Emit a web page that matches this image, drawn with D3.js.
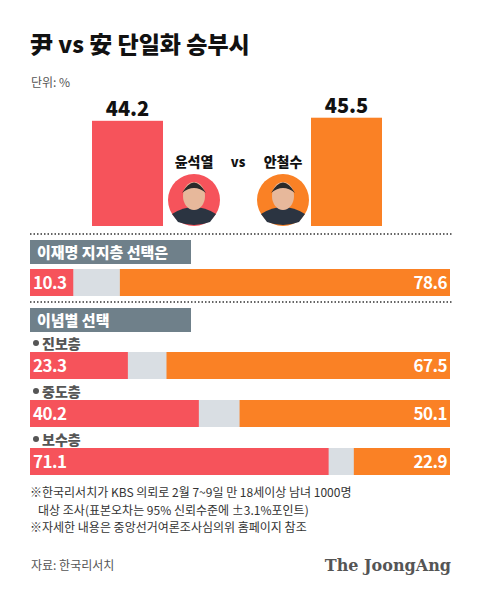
<!DOCTYPE html>
<html><head><meta charset="utf-8">
<script src="https://cdn.jsdelivr.net/npm/d3@7"></script>
<style>body{margin:0;background:#fff}text{font-family:"Noto Sans CJK KR","Noto Sans",sans-serif}</style>
</head><body><svg width="480" height="589"></svg>
<script>
"use strict"

var candidates = ["윤석열", "안철수"]
var overall = [44.2, 45.5]
var leeGroup = [10.3, 78.6]
var ideoLabels = ["진보층", "중도층", "보수층"]
var ideoYoon = [23.3, 40.2, 71.1]
var ideoAhn = [67.5, 50.1, 22.9]

var RED = "#f6535b", ORANGE = "#fa8125", GRAY = "#d9dee3", BOX = "#6f808a"
var svg = d3.select("svg")

svg.append("text").attr("x", 30).attr("y", 53).attr("font-size", 23).attr("font-weight", 900)
    .attr("fill", "#111").text("尹 vs 安 단일화 승부시")
svg.append("text").attr("x", 31).attr("y", 87).attr("font-size", 12).attr("fill", "#555").text("단위: %")

// top bars
var yTop = d3.scaleLinear().domain([0, 100]).range([226, -12])
var xs = [92, 311]
overall.forEach(function(v, i) {
    svg.append("rect").attr("x", xs[i]).attr("y", yTop(v)).attr("width", 71)
        .attr("height", 226 - yTop(v)).attr("fill", i ? ORANGE : RED)
    svg.append("text").attr("x", xs[i] + 35.5).attr("y", yTop(v) - 5).attr("text-anchor", "middle")
        .attr("font-size", 20).attr("font-weight", 900).attr("fill", "#111").text(v)
})
var cx = [194, 283]
candidates.forEach(function(n, i) {
    svg.append("text").attr("x", cx[i]).attr("y", 167).attr("text-anchor", "middle")
        .attr("font-size", 14).attr("font-weight", 900).attr("fill", "#111").text(n)
    var g = svg.append("g")
    g.append("circle").attr("cx", cx[i]).attr("cy", 200).attr("r", 26).attr("fill", i ? ORANGE : RED)
    g.append("path").attr("d", "M" + (cx[i] - 22) + ",214 Q" + cx[i] + ",200 " + (cx[i] + 22) + ",214 L" + (cx[i] + 16) + ",222 Q" + cx[i] + ",228 " + (cx[i] - 16) + ",222Z")
        .attr("fill", "#2b3441")
    g.append("ellipse").attr("cx", cx[i]).attr("cy", 196).attr("rx", 11).attr("ry", 14).attr("fill", "#e7b89b")
    g.append("path").attr("d", "M" + (cx[i] - 12) + ",193 Q" + cx[i] + ",172 " + (cx[i] + 12) + ",193 Q" + cx[i] + ",183 " + (cx[i] - 12) + ",193Z")
        .attr("fill", "#2a2a2a")
})
svg.append("text").attr("x", 238).attr("y", 167).attr("text-anchor", "middle")
    .attr("font-size", 13).attr("font-weight", 900).attr("fill", "#111").text("vs")

// dotted separators
;[234, 302].forEach(function(y) {
    svg.append("line").attr("x1", 30).attr("x2", 452).attr("y1", y).attr("y2", y)
        .attr("stroke", "#333").attr("stroke-width", 1.5).attr("stroke-dasharray", "1.5,2")
})

var x = d3.scaleLinear().domain([0, 100]).range([30, 450])

function header(txt, y, w) {
    svg.append("rect").attr("x", 30).attr("y", y).attr("width", w).attr("height", 24).attr("fill", BOX)
    svg.append("text").attr("x", 37).attr("y", y + 18).attr("font-size", 15).attr("font-weight", 900)
        .attr("fill", "#fff").text(txt)
}
function stackBar(y, a, b) {
    svg.append("rect").attr("x", x(0)).attr("y", y).attr("width", x(100) - x(0)).attr("height", 27).attr("fill", GRAY)
    svg.append("rect").attr("x", x(0)).attr("y", y).attr("width", x(a) - x(0)).attr("height", 27).attr("fill", RED)
    svg.append("rect").attr("x", x(100 - b)).attr("y", y).attr("width", x(100) - x(100 - b)).attr("height", 27).attr("fill", ORANGE)
    svg.append("text").attr("x", x(0) + 3).attr("y", y + 20).attr("font-size", 17).attr("font-weight", 700)
        .attr("letter-spacing", -0.5).attr("fill", "#fff").text(a.toFixed(1))
    svg.append("text").attr("x", x(100) - 3).attr("y", y + 20).attr("text-anchor", "end").attr("font-size", 17)
        .attr("letter-spacing", -0.5).attr("font-weight", 700).attr("fill", "#fff").text(b.toFixed(1))
}

header("이재명 지지층 선택은", 240, 161)
stackBar(269, leeGroup[0], leeGroup[1])

header("이념별 선택", 308, 161)
var rowY = [352, 400, 448]
ideoLabels.forEach(function(l, i) {
    svg.append("circle").attr("cx", 36).attr("cy", rowY[i] - 9).attr("r", 3).attr("fill", "#555")
    svg.append("text").attr("x", 42).attr("y", rowY[i] - 3).attr("font-size", 14).attr("font-weight", 900)
        .attr("fill", "#555").text(l)
    stackBar(rowY[i], ideoYoon[i], ideoAhn[i])
})

var notes = ["※한국리서치가 KBS 의뢰로 2월 7~9일 만 18세이상 남녀 1000명",
    "   대상 조사(표본오차는 95% 신뢰수준에 ±3.1%포인트)",
    "※자세한 내용은 중앙선거여론조사심의위 홈페이지 참조"]
notes.forEach(function(t, i) {
    svg.append("text").attr("x", 30).attr("y", 497 + i * 17.5).attr("font-size", 12).attr("fill", "#333")
        .attr("xml:space", "preserve").text(t)
})
svg.append("text").attr("x", 31).attr("y", 570).attr("font-size", 12).attr("fill", "#555").text("자료: 한국리서치")
svg.append("text").attr("x", 451).attr("y", 571).attr("text-anchor", "end").attr("font-size", 16)
    .attr("font-weight", 700).attr("fill", "#555").attr("style", "font-family:'DejaVu Serif',serif").text("The JoongAng")
</script></body></html>
